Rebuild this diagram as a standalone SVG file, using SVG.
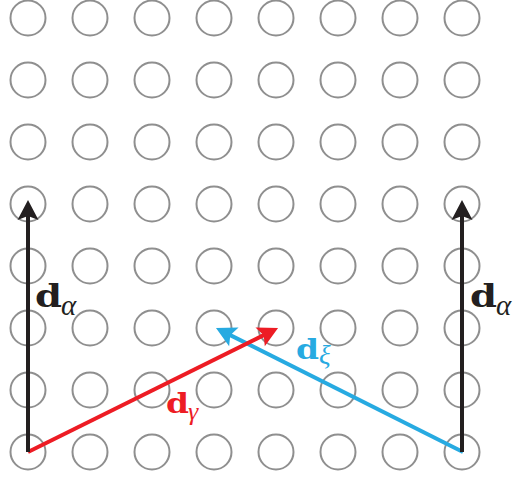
<svg xmlns="http://www.w3.org/2000/svg" width="517" height="479" viewBox="0 0 517 479">
<style>
.c{fill:none;stroke:#8f8f8f;stroke-width:2}
.v{fill:none;stroke-width:4}
.bold{font-family:"DejaVu Serif","Liberation Serif",serif;font-weight:bold}
.gr{font-family:"Liberation Serif","DejaVu Serif",serif;font-style:italic}
</style>
<defs>
<marker id="ak" viewBox="-10 -12 24 24" markerWidth="24" markerHeight="24" refX="0" refY="0" orient="auto" markerUnits="userSpaceOnUse"><path d="M12,0 L-8,-10.5 L-4,0 L-8,10.5 Z" fill="#231f20"/></marker>
<marker id="ar" viewBox="-10 -12 24 24" markerWidth="24" markerHeight="24" refX="0" refY="0" orient="auto" markerUnits="userSpaceOnUse"><path d="M12,0 L-8,-10.5 L-4,0 L-8,10.5 Z" fill="#ed1c24"/></marker>
<marker id="ab" viewBox="-10 -12 24 24" markerWidth="24" markerHeight="24" refX="0" refY="0" orient="auto" markerUnits="userSpaceOnUse"><path d="M12,0 L-8,-10.5 L-4,0 L-8,10.5 Z" fill="#27aae1"/></marker>
<g id="row"><circle class="c" cx="28" cy="0" r="17.5"/><circle class="c" cx="90" cy="0" r="17.5"/><circle class="c" cx="152" cy="0" r="17.5"/><circle class="c" cx="214" cy="0" r="17.5"/><circle class="c" cx="276" cy="0" r="17.5"/><circle class="c" cx="338" cy="0" r="17.5"/><circle class="c" cx="400" cy="0" r="17.5"/><circle class="c" cx="462" cy="0" r="17.5"/></g>
</defs>
<g id="grid">
<use href="#row" y="18"/><use href="#row" y="80"/><use href="#row" y="142"/><use href="#row" y="204"/><use href="#row" y="266"/><use href="#row" y="328"/><use href="#row" y="390"/><use href="#row" y="452"/>
</g>
<g id="connectors">
<line class="v" x1="463" y1="452" x2="226.7" y2="333.4" stroke="#27aae1" marker-end="url(#ab)"/>
<line class="v" x1="28" y1="452" x2="267.3" y2="333.4" stroke="#ed1c24" marker-end="url(#ar)"/>
<line class="v" x1="28" y1="452" x2="28" y2="212" stroke="#231f20" marker-end="url(#ak)"/>
<line class="v" x1="462" y1="452" x2="462" y2="212" stroke="#231f20" marker-end="url(#ak)"/>
</g>
<g id="labels">
<text x="35" y="307" font-size="32" class="bold" fill="#231f20" textLength="27" lengthAdjust="spacingAndGlyphs">d</text><text x="61" y="315" font-size="29" class="gr" fill="#231f20">α</text>
<text x="470" y="307" font-size="32" class="bold" fill="#231f20" textLength="27" lengthAdjust="spacingAndGlyphs">d</text><text x="496" y="315" font-size="29" class="gr" fill="#231f20">α</text>
<text x="166" y="413" font-size="28" class="bold" fill="#ed1c24" textLength="23" lengthAdjust="spacingAndGlyphs">d</text><text x="188" y="420" font-size="26" class="gr" fill="#ed1c24">γ</text>
<text x="296" y="359" font-size="28" class="bold" fill="#27aae1" textLength="23" lengthAdjust="spacingAndGlyphs">d</text><text x="319" y="364" font-size="27" class="gr" fill="#27aae1">ξ</text>
</g>
</svg>
